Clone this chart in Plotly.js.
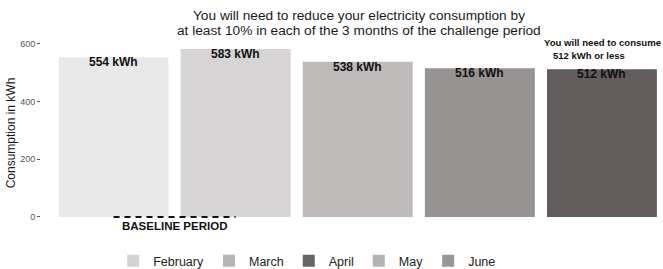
<!DOCTYPE html>
<html>
<head>
<meta charset="utf-8">
<script src="https://cdn.plot.ly/plotly-3.0.1.min.js"></script>
<style>html,body{margin:0;padding:0;background:#fff;}#chart{width:663px;height:269px;}</style>
</head>
<body>
<div id="chart"></div>
<script>
// ---- data ----
var months = ['February', 'March', 'April', 'May', 'June'];
var consumption = [554, 583, 538, 516, 512];
var barLabels = ['554 kWh', '583 kWh', '538 kWh', '516 kWh', '512 kWh'];
var barColors = ['#e8e8e8', '#d6d4d5', '#bebab9', '#979392', '#625d5c'];
var legendColors = ['#d3d3d3', '#b6b6b6', '#686464', '#b3b3b3', '#9a9797'];
var yTicks = [0, 200, 400, 600];
var titleLines = ['You will need to reduce your electricity consumption by',
                  'at least 10% in each of the 3 months of the challenge period'];
var targetLines = ['You will need to consume', '512 kWh or less'];
var baselineText = 'BASELINE PERIOD';
var baselineMonths = [0, 1];

var FONT = 'Liberation Sans, Arial, Helvetica, sans-serif';

// paper area: top margin 32px, no bottom margin -> 237px tall; plot panel ends 35px above bottom
var PAPER_H = 269 - 32;
var DOMAIN_BOTTOM = 35 / PAPER_H;

var traces = [{
  type: 'bar',
  x: months,
  y: consumption,
  width: 0.9,
  marker: {color: barColors, line: {width: 0}},
  showlegend: false,
  hoverinfo: 'x+y'
}];
months.forEach(function (m, i) {
  traces.push({
    type: 'bar',
    x: [m],
    y: [0],
    name: m,
    marker: {color: legendColors[i], line: {width: 0}},
    showlegend: true,
    hoverinfo: 'skip'
  });
});

var annotations = consumption.map(function (v, i) {
  return {
    x: months[i], y: v, xref: 'x', yref: 'y', yshift: 4,
    text: '<b>' + barLabels[i] + '</b>',
    showarrow: false, yanchor: 'top', xanchor: 'center',
    font: {family: FONT, size: 12, color: '#111'}
  };
});
// title lines
annotations.push({
  x: 0.511, y: 1, xref: 'paper', yref: 'paper', yshift: 17,
  text: titleLines[0], showarrow: false, xanchor: 'center', yanchor: 'middle',
  font: {family: FONT, size: 13.7, color: '#1a1a1a'}
});
annotations.push({
  x: 0.511, y: 1, xref: 'paper', yref: 'paper', yshift: 2,
  text: titleLines[1], showarrow: false, xanchor: 'center', yanchor: 'middle',
  font: {family: FONT, size: 13.7, color: '#1a1a1a'}
});
annotations.push({
  x: 4, y: 0, xref: 'x', yref: 'y', xshift: -60, yshift: 174,
  text: '<b>' + targetLines[0] + '</b>', showarrow: false,
  xanchor: 'left', yanchor: 'middle',
  font: {family: FONT, size: 9.6, color: '#111'}
});
annotations.push({
  x: 4, y: 0, xref: 'x', yref: 'y', xshift: -51, yshift: 161,
  text: '<b>' + targetLines[1] + '</b>', showarrow: false,
  xanchor: 'left', yanchor: 'middle',
  font: {family: FONT, size: 9.5, color: '#111'}
});
annotations.push({
  x: (baselineMonths[0] + baselineMonths[1]) / 2, y: 0, xref: 'x', yref: 'y', yshift: -9,
  text: '<b>' + baselineText + '</b>', showarrow: false,
  xanchor: 'center', yanchor: 'middle',
  font: {family: FONT, size: 11.5, color: '#111'}
});

var layout = {
  width: 663, height: 269,
  margin: {l: 41, r: 0, t: 32, b: 0, pad: 0, autoexpand: false},
  paper_bgcolor: '#fff', plot_bgcolor: '#fff',
  barmode: 'overlay',
  font: {family: FONT},
  xaxis: {
    type: 'category', range: [-0.594, 4.5], automargin: false,
    showticklabels: false, ticks: '', showgrid: false, zeroline: false, showline: false
  },
  yaxis: {
    domain: [DOMAIN_BOTTOM, 1], automargin: false,
    range: [-59.0, 641.6],
    tickvals: yTicks, ticktext: yTicks.map(String),
    ticks: 'outside', ticklen: 3, tickwidth: 1, tickcolor: '#555',
    tickfont: {family: FONT, size: 9, color: '#555'},
    showgrid: false, zeroline: false, showline: false,
    title: {text: 'Consumption in kWh', standoff: 1, font: {family: FONT, size: 12, color: '#1a1a1a'}}
  },
  legend: {
    orientation: 'h', x: 0.428, xanchor: 'center', y: 8 / PAPER_H, yanchor: 'middle',
    font: {family: FONT, size: 12.5, color: '#222'},
    itemclick: false, itemdoubleclick: false, tracegroupgap: 0,
    bgcolor: 'rgba(0,0,0,0)'
  },
  shapes: [{
    type: 'line', xref: 'x', yref: 'y',
    x0: baselineMonths[0], x1: baselineMonths[1], y0: 0, y1: 0,
    line: {color: '#111', width: 2, dash: '6px,5px'}, layer: 'above'
  }],
  annotations: annotations
};

Plotly.newPlot('chart', traces, layout, {displayModeBar: false, staticPlot: true});
</script>
</body>
</html>
